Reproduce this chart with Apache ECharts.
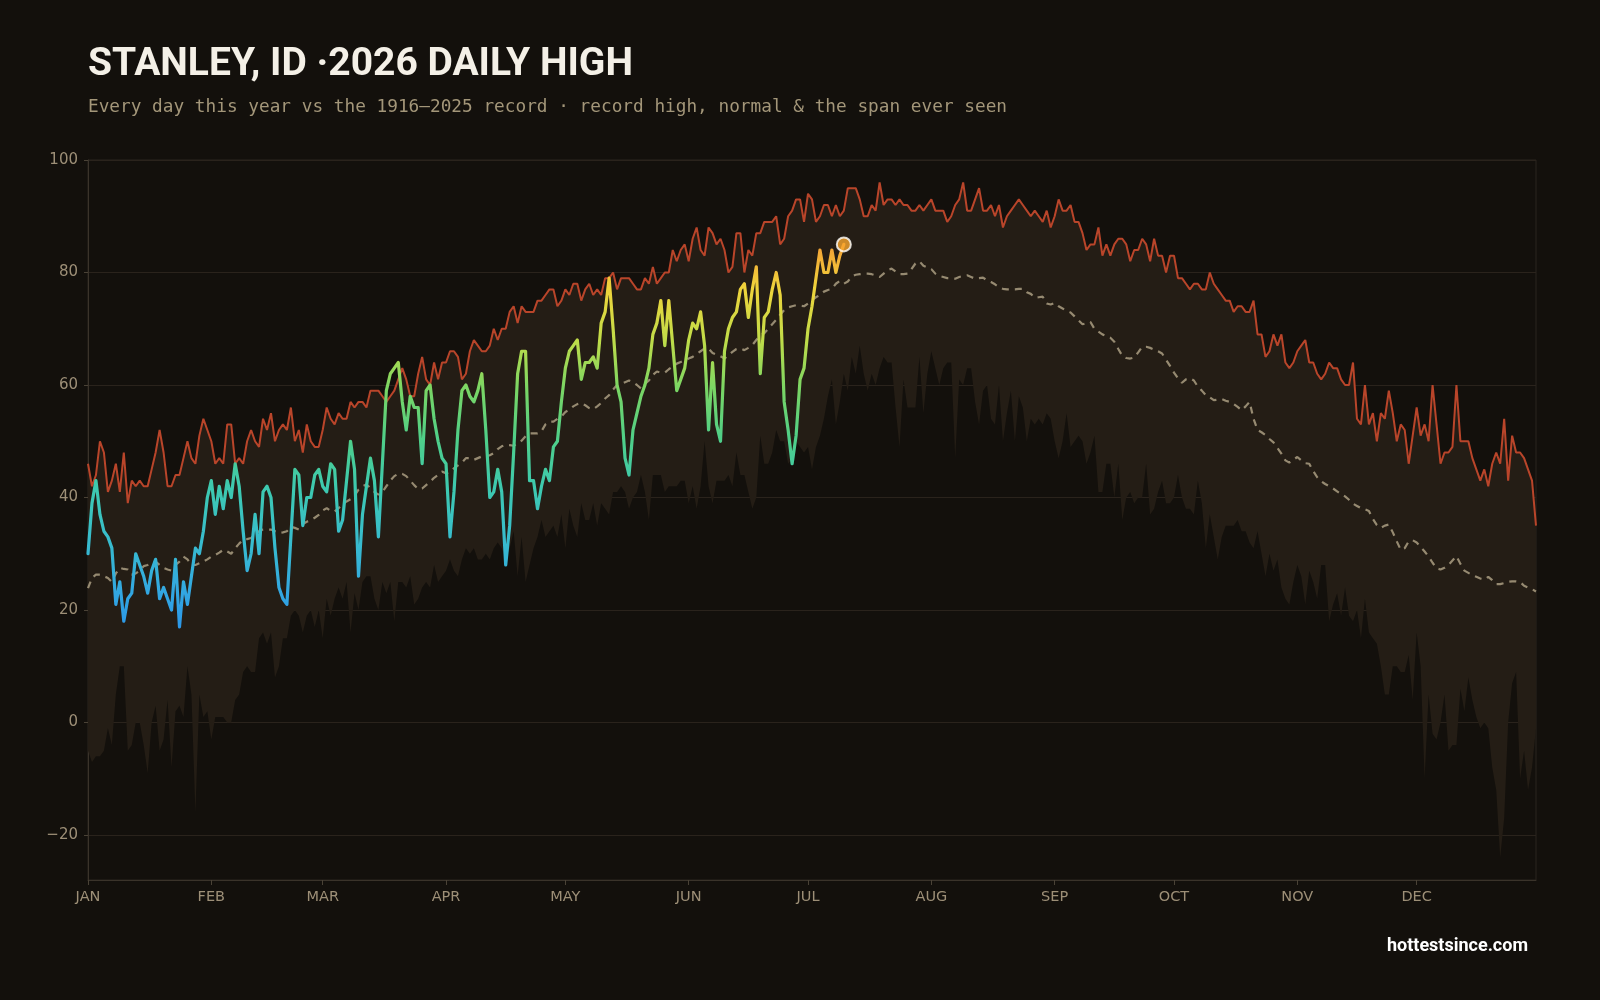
<!DOCTYPE html>
<html>
<head>
<meta charset="utf-8">
<title>Stanley, ID 2026 daily high</title>
<script src="https://cdn.jsdelivr.net/npm/echarts@6/dist/echarts.min.js"></script>
<style>
  html, body { margin: 0; padding: 0; background: #13100c; }
  #chart { width: 1600px; height: 1000px; }
</style>
</head>
<body>
<div id="chart"></div>
<script>
const monthLabels = ["JAN", "FEB", "MAR", "APR", "MAY", "JUN", "JUL", "AUG", "SEP", "OCT", "NOV", "DEC"];
const monthStarts = [0, 31, 59, 90, 120, 151, 181, 212, 243, 273, 304, 334];
const yTicks = [-20, 0, 20, 40, 60, 80, 100];

// record high, 1916-2025, one value per day of year
const recordHigh = [
  46, 42, 44, 50, 48, 41, 43, 46, 41, 48,
  39, 43, 42, 43, 42, 42, 45, 48, 52, 48,
  42, 42, 44, 44, 47, 50, 47, 46, 51, 54,
  52, 50, 46, 47, 46, 53, 53, 46, 47, 46,
  50, 52, 50, 49, 54, 52, 55, 50, 52, 53,
  52, 56, 50, 52, 48, 53, 50, 49, 49, 52,
  56, 54, 53, 55, 54, 54, 57, 56, 57, 57,
  56, 59, 59, 59, 58, 57, 58, 59, 61, 63,
  61, 58, 58, 62, 65, 61, 60, 64, 61, 64,
  64, 66, 66, 65, 61, 62, 66, 68, 67, 66,
  66, 67, 70, 68, 70, 70, 73, 74, 71, 74,
  73, 73, 73, 75, 75, 76, 77, 77, 74, 75,
  77, 76, 78, 78, 75, 77, 78, 76, 77, 76,
  79, 79, 80, 77, 79, 79, 79, 78, 77, 77,
  79, 78, 81, 78, 79, 80, 80, 84, 82, 84,
  85, 82, 86, 88, 84, 83, 88, 87, 85, 86,
  84, 80, 81, 87, 87, 80, 84, 83, 87, 87,
  89, 89, 89, 90, 85, 86, 90, 91, 93, 93,
  89, 94, 93, 89, 90, 92, 92, 90, 92, 90,
  91, 95, 95, 95, 93, 90, 90, 92, 91, 96,
  92, 93, 93, 92, 93, 92, 92, 91, 91, 92,
  91, 92, 93, 91, 91, 91, 89, 90, 92, 93,
  96, 91, 91, 93, 95, 91, 91, 92, 90, 92,
  88, 90, 91, 92, 93, 92, 91, 90, 91, 90,
  89, 91, 88, 90, 93, 91, 91, 92, 89, 89,
  87, 84, 85, 85, 88, 83, 85, 83, 85, 86,
  86, 85, 82, 84, 84, 86, 85, 82, 86, 83,
  83, 80, 83, 83, 79, 79, 78, 77, 78, 78,
  77, 77, 80, 78, 77, 76, 75, 75, 73, 74,
  74, 73, 73, 75, 69, 69, 65, 66, 69, 67,
  69, 64, 63, 64, 66, 67, 68, 64, 64, 62,
  61, 62, 64, 63, 63, 61, 60, 60, 64, 54,
  53, 60, 53, 55, 50, 55, 54, 59, 55, 50,
  53, 52, 46, 51, 56, 51, 53, 50, 60, 53,
  46, 48, 48, 49, 60, 50, 50, 50, 47, 45,
  43, 45, 42, 46, 48, 46, 54, 43, 51, 48,
  48, 47, 45, 43, 35
];

// record low of the daily high
const recordLow = [
  -5, -7, -6, -6, -5, -1, -4, 5, 10, 10,
  -5, -4, 0, 0, -4, -9, 0, 3, -5, -3,
  4, -8, 2, 3, 1, 10, 5, -16, 5, 1,
  2, -3, 1, 1, 1, 0, 0, 4, 5, 9,
  10, 9, 9, 15, 16, 14, 16, 8, 10, 15,
  15, 19, 20, 19, 16, 19, 20, 17, 20, 15,
  22, 19, 22, 24, 22, 25, 16, 23, 20, 25,
  26, 26, 22, 20, 25, 23, 25, 18, 25, 25,
  24, 26, 21, 22, 24, 25, 24, 28, 25, 26,
  27, 29, 27, 26, 29, 31, 30, 31, 29, 29,
  30, 29, 31, 32, 31, 29, 31, 34, 26, 33,
  25, 28, 31, 33, 36, 33, 34, 35, 33, 37,
  31, 38, 35, 33, 39, 36, 36, 39, 35, 39,
  38, 37, 41, 41, 42, 41, 38, 40, 41, 44,
  41, 36, 44, 44, 44, 41, 42, 42, 42, 43,
  43, 39, 42, 38, 42, 50, 42, 39, 43, 43,
  43, 44, 42, 48, 44, 44, 41, 38, 40, 51,
  46, 46, 48, 52, 50, 50, 46, 47, 50, 49,
  48, 49, 45, 49, 51, 54, 58, 61, 53, 57,
  62, 59, 65, 62, 67, 62, 59, 62, 60, 63,
  65, 64, 64, 56, 49, 61, 56, 56, 56, 65,
  55, 62, 66, 63, 60, 63, 64, 64, 47, 61,
  60, 63, 63, 57, 53, 59, 60, 54, 53, 60,
  50, 55, 59, 50, 58, 56, 50, 54, 53, 54,
  53, 55, 54, 50, 47, 50, 55, 49, 50, 51,
  50, 46, 48, 51, 41, 41, 46, 46, 40, 46,
  36, 40, 41, 39, 40, 40, 46, 37, 38, 41,
  43, 39, 39, 40, 44, 40, 38, 38, 37, 43,
  39, 31, 37, 33, 29, 33, 35, 35, 35, 36,
  34, 34, 32, 31, 34, 30, 26, 30, 27, 29,
  24, 22, 21, 25, 28, 26, 21, 27, 25, 22,
  28, 28, 18, 21, 23, 19, 24, 19, 18, 20,
  15, 22, 16, 15, 14, 10, 5, 5, 10, 10,
  9, 9, 12, 4, 16, 10, -10, 5, -2, -3,
  0, 5, -5, -4, -4, 6, 2, 8, 4, 1,
  -1, 0, -1, -8, -12, -24, -17, 0, 7, 9,
  -10, -5, -12, -8, -1
];

// normal daily high
const normalHigh = [
  23.9, 25.7, 26.3, 26.3, 26, 25.7, 25, 26.5, 27.5, 27.3,
  27.2, 26.3, 26.5, 27, 27.8, 28, 28.3, 28.6, 28, 27.5,
  27.2, 27, 28, 28.6, 29.5, 29, 28, 28, 28.3, 28.6,
  29, 29.5, 29.8, 30.2, 30.7, 30.4, 30, 31, 31.8, 32.5,
  32.6, 32.8, 33.5, 34, 34.3, 34.3, 34.3, 34, 33.7, 33.8,
  34, 34.8, 34.6, 34.3, 35.3, 35.7, 36, 36.4, 36.9, 37.7,
  38.1, 37.6, 37.5, 38.1, 38.8, 39.3, 39.7, 40.3, 41.4, 42,
  42.3, 41.7, 41, 40.5, 41, 42, 43, 43.8, 44.2, 44.2,
  43.8, 43, 42.2, 41.5, 41.6, 42.2, 42.8, 43.5, 44, 44.6,
  44.3, 44.5, 45.2, 45.7, 46.2, 47, 47, 46.7, 47, 47.3,
  47.3, 47.5, 47.9, 48.6, 49.1, 49.4, 49.3, 49.2, 49.6, 50.1,
  50.9, 51.4, 51.4, 51.4, 51.8, 53, 53.5, 53.5, 54, 54.4,
  55.2, 55.6, 56.2, 56.6, 56.8, 56.4, 55.9, 55.7, 56.2, 56.8,
  57.6, 58.2, 59.2, 60, 60.2, 60.5, 60.8, 60.5, 60, 59.4,
  60.2, 60.8, 61.8, 62.4, 62.2, 62.2, 62.8, 63.3, 63.8, 64.1,
  64.4, 64.7, 65, 65.5, 66, 66.5, 66.5, 65.7, 65.4, 65.1,
  64.7, 65.3, 65.9, 66.4, 66.5, 66.2, 66.6, 67.1, 68, 68.8,
  69.2, 70, 70.8, 71.6, 72.5, 73.3, 73.8, 74, 74.2, 74.1,
  74, 74.5, 75.1, 75.6, 76, 76.6, 76.9, 77.1, 78, 78.5,
  78, 78.4, 79.3, 79.6, 79.7, 79.8, 79.8, 79.7, 79.5, 79.2,
  79.8, 80.4, 80.7, 80.2, 79.7, 79.7, 79.8, 80.6, 81.6, 82,
  81.2, 80.9, 80.6, 79.8, 79.4, 79.2, 79, 79, 78.9, 79.2,
  79.4, 79.5, 79.2, 78.9, 79, 79.1, 78.6, 78.3, 77.9, 77.4,
  77.1, 77, 77, 77, 77.1, 77.1, 76.5, 76.2, 75.5, 75.6,
  75.7, 74.5, 74.3, 74.6, 74, 73.6, 73.2, 72.9, 72.2, 71.5,
  70.8, 71, 71.2, 70, 69.5, 69, 68.7, 68.4, 67.7, 66.4,
  65.2, 64.8, 64.7, 64.9, 65.8, 66.8, 66.8, 66.6, 66.3, 66,
  65.6, 64.5, 63.4, 62.2, 61.2, 60.4, 61, 61.2, 60.8, 59.7,
  59, 58.2, 57.8, 57.3, 57.4, 57.5, 57.2, 57, 56.6, 56.1,
  55.5, 56.2, 57, 54, 52, 51.6, 51.1, 50.4, 49.8, 48.8,
  47.8, 46.6, 46.2, 46.7, 47.2, 46.6, 46.1, 46, 44.7, 43.6,
  42.9, 42.4, 42, 41.6, 41.1, 40.6, 40.2, 39.6, 38.9, 38.5,
  38.1, 37.9, 37.6, 36.2, 35.1, 34.6, 35, 35.2, 33.8, 32.2,
  30.7, 31, 32.2, 32.4, 32, 31.2, 30.4, 29.5, 28.4, 27.4,
  27.2, 27.5, 28, 28.8, 29.6, 28.2, 27, 26.6, 26.2, 25.9,
  25.6, 25.4, 25.9, 25.3, 24.6, 24.6, 24.8, 25, 25.1, 25.1,
  25, 24.3, 24, 23.7, 23.3
];

// 2026 daily highs so far
const highs2026 = [
  30, 39, 43, 37, 34, 33, 31, 21, 25, 18,
  22, 23, 30, 28, 26, 23, 27, 29, 22, 24,
  22, 20, 29, 17, 25, 21, 26, 31, 30, 34,
  40, 43, 37, 42, 38, 43, 40, 46, 42, 34,
  27, 30, 37, 30, 41, 42, 40, 31, 24, 22,
  21, 33, 45, 44, 35, 40, 40, 44, 45, 42,
  41, 46, 45, 34, 36, 43, 50, 45, 26, 37,
  42, 47, 43, 33, 46, 59, 62, 63, 64, 57,
  52, 58, 56, 56, 46, 59, 60, 54, 50, 47,
  46, 33, 41, 52, 59, 60, 58, 57, 59, 62,
  52, 40, 41, 45, 41, 28, 35, 48, 62, 66,
  66, 43, 43, 38, 42, 45, 43, 49, 50, 57,
  63, 66, 67, 68, 61, 64, 64, 65, 63, 71,
  73, 79, 70, 60, 57, 47, 44, 52, 55, 58,
  60, 63, 69, 71, 75, 67, 75, 67, 59, 61,
  63, 68, 71, 70, 73, 67, 52, 64, 53, 50,
  66, 70, 72, 73, 77, 78, 72, 77, 81, 62,
  72, 73, 77, 80, 76, 57, 52, 46, 51, 61,
  63, 70, 74, 79, 84, 80, 80, 84, 80, 83,
  85
];

const days = recordHigh.map((_, i) => i);
const bandSpan = recordHigh.map((v, i) => v - recordLow[i]);
const lastDay = highs2026.length - 1;

const chart = echarts.init(document.getElementById("chart"));

chart.setOption({
  animation: false,
  backgroundColor: "#13100c",
  grid: {
    left: 88,
    right: 64,
    top: 160,
    bottom: 120,
    show: true,
    borderColor: "#2b251e",
    borderWidth: 1
  },
  graphic: [
    {
      type: "text",
      left: 88,
      top: 46,
      style: {
        text: "STANLEY, ID \u00b72026 DAILY HIGH",
        fill: "#f4f0e7",
        font: "700 39px Roboto, sans-serif"
      }
    },
    {
      type: "text",
      left: 88,
      top: 98,
      style: {
        text: "Every day this year vs the 1916\u20132025 record \u00b7 record high, normal & the span ever seen",
        fill: "#a39679",
        font: "17.75px 'DejaVu Sans Mono', monospace"
      }
    },
    {
      type: "text",
      right: 72,
      top: 937,
      style: {
        text: "hottestsince.com",
        fill: "#ffffff",
        font: "700 18px Roboto, sans-serif"
      }
    }
  ],
  visualMap: {
    show: false,
    type: "continuous",
    seriesIndex: 4,
    dimension: 1,
    min: 15,
    max: 86,
    inRange: {
      color: ["#2a93ea", "#33a9e0", "#38bdcc", "#3dc9b0", "#4fcf88", "#7ad664", "#c2dc48", "#efd43c", "#f59a34"]
    }
  },
  xAxis: {
    type: "category",
    data: days,
    boundaryGap: false,
    axisLine: { onZero: false, lineStyle: { color: "#3a332a" } },
    axisTick: {
      interval: (index) => monthStarts.includes(index),
      length: 5,
      lineStyle: { color: "#4a4236" }
    },
    axisLabel: {
      interval: (index) => monthStarts.includes(index),
      formatter: (value, index) => monthLabels[monthStarts.indexOf(index)],
      color: "#9d8f77",
      fontFamily: "DejaVu Sans",
      fontSize: 14.5,
      margin: 10
    },
    splitLine: { show: false }
  },
  yAxis: {
    type: "value",
    min: -28,
    max: 100,
    axisLine: { show: true, lineStyle: { color: "#3a332a" } },
    axisTick: {
      show: true,
      length: 4,
      customValues: yTicks,
      lineStyle: { color: "#4a4236" }
    },
    axisLabel: {
      customValues: yTicks,
      formatter: (v) => (v < 0 ? "\u2212" + Math.abs(v) : String(v)),
      color: "#9d8f77",
      fontFamily: "DejaVu Sans",
      fontSize: 15,
      margin: 10
    },
    splitLine: { show: true, lineStyle: { color: "#2a231c", width: 1 } }
  },
  series: [
    {
      name: "record low",
      type: "line",
      data: recordLow,
      stack: "band",
      stackStrategy: "all",
      symbol: "none",
      lineStyle: { opacity: 0 },
      silent: true
    },
    {
      name: "span",
      type: "line",
      data: bandSpan,
      stack: "band",
      stackStrategy: "all",
      symbol: "none",
      lineStyle: { opacity: 0 },
      areaStyle: { color: "#241d15", opacity: 1 },
      silent: true
    },
    {
      name: "normal",
      type: "line",
      data: normalHigh,
      symbol: "none",
      lineStyle: { color: "#968a71", width: 2.2, type: [7, 6] },
      silent: true
    },
    {
      name: "record high",
      type: "line",
      data: recordHigh,
      symbol: "none",
      lineStyle: { color: "#b9452a", width: 2 },
      silent: true
    },
    {
      name: "2026",
      type: "line",
      data: highs2026,
      symbol: "none",
      lineStyle: { width: 3.2, cap: "round", join: "round" },
      z: 5
    },
    {
      name: "latest",
      type: "scatter",
      data: [[lastDay, highs2026[lastDay]]],
      symbolSize: 14,
      itemStyle: { color: "#f7a62e", borderColor: "#ffffff", borderWidth: 2 },
      z: 6
    }
  ]
});
</script>
</body>
</html>
